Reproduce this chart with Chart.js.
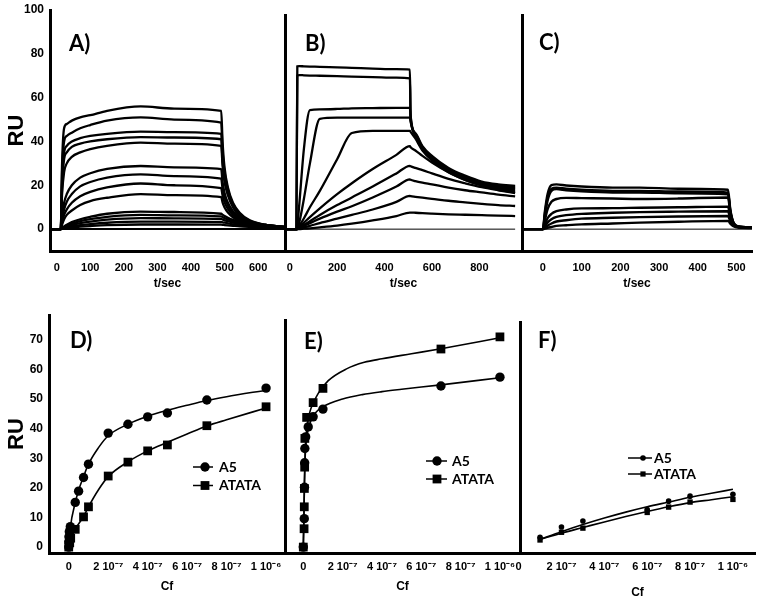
<!DOCTYPE html>
<html>
<head>
<meta charset="utf-8">
<script src="https://cdn.jsdelivr.net/npm/chart.js@4.4.1/dist/chart.umd.min.js"></script>
<style>
  html, body { margin: 0; padding: 0; background: #fff; overflow: hidden; }
  #fig { position: relative; width: 762px; height: 603px; }
  #fig canvas { position: absolute; }
</style>
</head>
<body>
<div id="fig">
  <canvas id="cA" width="297" height="300" style="left:0;top:0"></canvas>
  <canvas id="cB" width="263" height="300" style="left:271px;top:0"></canvas>
  <canvas id="cC" width="254" height="300" style="left:508px;top:0"></canvas>
  <canvas id="cD" width="297" height="303" style="left:0;top:300px"></canvas>
  <canvas id="cE" width="261" height="303" style="left:271px;top:300px"></canvas>
  <canvas id="cF" width="256" height="303" style="left:506px;top:300px"></canvas>
</div>
<script>
// ---- sensorgrams (t in s, response in RU) ----
const timeA = [-20, 12, 16, 22, 30, 45, 70, 100, 150, 250, 350, 490, 494, 500, 510, 525, 545, 575, 620, 680];
const tracesA = [
  [0, 0, 30, 46, 48, 49.5, 51, 52, 54, 56, 55, 54, 40, 28, 19, 12, 7.5, 4, 2, 1],
  [0, 0, 26, 40, 42.5, 44, 46, 47.5, 49.5, 51, 50, 48.6, 36, 26, 18, 11.5, 7, 3.8, 2, 1],
  [0, 0, 22, 35, 38, 40, 41.5, 42.5, 43.5, 44.5, 44.3, 43.5, 33, 24, 17, 11, 6.6, 3.6, 1.9, 1],
  [0, 0, 20, 32, 35, 37.5, 39, 40, 41, 42, 41.8, 41, 31, 23, 16, 10.5, 6.3, 3.5, 1.9, 1],
  [0, 0, 16, 26, 30, 33, 35, 36.5, 38, 39.5, 39, 38, 29, 21.5, 15.5, 10, 6, 3.4, 1.8, 0.9],
  [0, 0, 6, 12, 16, 20, 23.5, 25.5, 27.5, 28.8, 28.2, 27.4, 21.5, 16.5, 12, 8.2, 5.2, 3, 1.6, 0.8],
  [0, 0, 4, 9, 12.5, 16, 19.5, 21.5, 23.5, 25, 24.2, 23, 18.5, 14.5, 10.8, 7.4, 4.8, 2.8, 1.5, 0.8],
  [0, 0, 3, 6.5, 9, 12, 15, 17, 19, 20.8, 20, 18.7, 15.3, 12.2, 9.2, 6.4, 4.2, 2.5, 1.4, 0.7],
  [0, 0, 2, 4.5, 6.5, 8.5, 11, 12.8, 14.3, 16, 15.5, 14.6, 12.2, 9.9, 7.6, 5.4, 3.7, 2.2, 1.2, 0.6],
  [0, 0, 0.5, 1.2, 2, 3.2, 4.5, 5.6, 7, 8, 7.8, 7, 6.6, 6, 5.2, 4.2, 3.2, 2.1, 1.2, 0.6],
  [0, 0, 0.4, 1, 1.6, 2.5, 3.6, 4.5, 5.6, 6.5, 6.3, 5.8, 5.5, 5, 4.4, 3.6, 2.8, 1.9, 1.1, 0.6],
  [0, 0, 0.3, 0.7, 1.2, 1.9, 2.7, 3.4, 4.3, 5, 4.9, 4.6, 4.4, 4, 3.6, 3, 2.4, 1.7, 1, 0.5],
  [0, 0, 0.2, 0.5, 0.8, 1.3, 1.8, 2.3, 2.9, 3.4, 3.4, 3.2, 3.1, 2.9, 2.6, 2.2, 1.8, 1.3, 0.9, 0.5],
  [0, 0, 0.1, 0.3, 0.5, 0.8, 1.1, 1.4, 1.8, 2.1, 2.1, 2, 1.95, 1.85, 1.7, 1.5, 1.25, 1, 0.7, 0.4]
];

const timeB = [-20, 28, 32, 40, 60, 85, 127, 200, 262, 350, 450, 507, 510, 530, 560, 600, 670, 740, 810, 880, 951];
const tracesB = [
  [0, 0, 74.5, 74.6, 74.5, 74.4, 74.3, 74, 73.8, 73.5, 73.2, 73, 52, 44, 38, 33.5, 28, 24.5, 21.8, 20.5, 19.8],
  [0, 0, 70.3, 70.5, 70.4, 70.3, 70.2, 70, 69.8, 69.6, 69.3, 69, 51.5, 43.5, 37.5, 33, 27.5, 24, 21.3, 20, 19.3],
  [0, 0, 1.5, 11, 37, 54.5, 54.8, 55, 55.3, 55.4, 55.5, 55.5, 50.5, 43, 37, 32.5, 27, 23.5, 21, 19.5, 18.8],
  [0, 0, 0.5, 3, 14, 30, 50.5, 51, 51, 51, 51, 51, 49, 42.5, 36.5, 32, 26.5, 23, 20.5, 19, 18.2],
  [0, 0, 0.3, 1.5, 5, 10, 17.5, 32, 44, 45, 45, 45, 44.5, 41.5, 36, 31.5, 26, 22.5, 20, 18.5, 17.5],
  [0, 0, 0.2, 1, 3, 5.5, 9.5, 16, 21, 27.5, 34, 38, 37.5, 36, 33.5, 30.5, 26, 22.5, 20, 18, 16.8],
  [0, 0, 0.1, 0.7, 2, 3.6, 6.5, 11, 14.5, 19.5, 25.5, 29, 28.8, 28, 27, 25.5, 23, 21, 19.2, 17.8, 16.5],
  [0, 0, 0.1, 0.5, 1.5, 2.7, 4.8, 8, 10.5, 14.5, 19.5, 22.8, 22.6, 22, 21.3, 20.5, 19, 17.8, 16.8, 15.8, 15],
  [0, 0, 0, 0.3, 0.8, 1.5, 2.8, 4.8, 6.5, 9, 12.5, 15.2, 15.1, 14.8, 14.4, 13.9, 13, 12.3, 11.6, 11, 10.6],
  [0, 0, 0, 0, 0.2, 0.4, 0.8, 1.6, 2.5, 4, 6, 7.6, 7.6, 7.5, 7.3, 7.1, 6.8, 6.6, 6.4, 6.2, 6]
];

const timeC = [-54, 0, 5, 12, 22, 35, 60, 100, 180, 250, 350, 478, 484, 492, 505, 540];
const tracesC = [
  [0, 0, 8, 16, 20.2, 20.5, 20, 19.5, 19, 19, 18.5, 18, 9, 3, 1.2, 0.8],
  [0, 0, 7, 14.5, 18.5, 19, 18.5, 18, 17.5, 17.5, 17.2, 16.7, 8.5, 3, 1.2, 0.8],
  [0, 0, 6, 13, 17.5, 18.3, 17.8, 17.3, 16.8, 16.8, 16.4, 16, 8, 2.8, 1.1, 0.8],
  [0, 0, 4, 9, 12.5, 13.8, 14.3, 14.2, 14, 13.8, 14, 14.5, 7.5, 2.6, 1, 0.7],
  [0, 0, 2, 5, 7, 8.2, 9, 9.5, 9.6, 9.8, 10, 10.3, 5.5, 2.2, 1, 0.7],
  [0, 0, 1.2, 3, 4.5, 5.6, 6.4, 7, 7.5, 7.8, 8, 8.2, 4.5, 2, 0.9, 0.6],
  [0, 0, 0.6, 1.6, 2.6, 3.5, 4.1, 4.8, 5.2, 5.5, 5.8, 6, 3.5, 1.7, 0.8, 0.6],
  [0, 0, 0.2, 0.6, 1, 1.5, 1.8, 2.2, 2.6, 3, 3.4, 3.8, 2.5, 1.3, 0.7, 0.5]
];

const ticksA = [0, 100, 200, 300, 400, 500, 600];
const ticksB = [0, 200, 400, 600, 800];
const ticksC = [0, 100, 200, 300, 400, 500];
const ticksRUtop = [0, 20, 40, 60, 80, 100];

// ---- binding isotherms (Cf in M, RU) ----
const seriesNames = ['A5', 'ATATA'];

const cfD_A5 = [0, 0, 1e-9, 3e-9, 8e-9, 3.3e-8, 5e-8, 7.5e-8, 1e-7, 2e-7, 3e-7, 4e-7, 5e-7, 7e-7, 1e-6];
const ruD_A5 = [0, 1.8, 3.5, 5.2, 6.9, 15.1, 18.9, 23.5, 28, 38.5, 41.5, 44, 45.3, 49.7, 53.7];
const cfD_AT = [0, 5e-9, 1e-8, 3.3e-8, 7.5e-8, 1e-7, 2e-7, 3e-7, 4e-7, 5e-7, 7e-7, 1e-6];
const ruD_AT = [0, 1.5, 3, 6, 10.2, 13.6, 24, 28.7, 32.5, 34.5, 41, 47.4];
const fitCfD_A5 = [0, 8e-9, 3.3e-8, 5e-8, 7.5e-8, 1e-7, 1.5e-7, 2e-7, 3e-7, 4e-7, 5e-7, 6e-7, 7e-7, 8e-7, 1e-6];
const fitRuD_A5 = [0, 6.5, 15, 19.2, 23.8, 28, 33.5, 37.6, 41.5, 44.2, 46.2, 47.9, 49.5, 50.8, 53];
const fitCfD_AT = [0, 1e-8, 3.3e-8, 7.5e-8, 1e-7, 1.5e-7, 2e-7, 3e-7, 4e-7, 5e-7, 6e-7, 7e-7, 8e-7, 1e-6];
const fitRuD_AT = [0, 2.5, 6, 10.3, 13.6, 19.3, 23.8, 28.8, 32.5, 35.4, 38.2, 40.9, 43, 47];

const cfE_A5 = [0, 5e-9, 6e-9, 7e-9, 8e-9, 1.2e-8, 2.5e-8, 5e-8, 1e-7, 7e-7, 1e-6];
const ruE_A5 = [0, 9.6, 20.2, 28.5, 33.3, 37.2, 40.6, 44, 46.6, 54.4, 57.4];
const cfE_AT = [0, 4e-9, 5e-9, 5.5e-9, 7e-9, 8e-9, 1.7e-8, 5e-8, 1e-7, 7e-7, 1e-6];
const ruE_AT = [0, 6.2, 13.6, 19.8, 27, 36.7, 43.8, 48.8, 53.6, 66.9, 71];
const fitCfE_A5 = [0, 3e-9, 6e-9, 1e-8, 2e-8, 3.5e-8, 6e-8, 1e-7, 2e-7, 3e-7, 4e-7, 5e-7, 7e-7, 1e-6];
const fitRuE_A5 = [0, 10, 22, 31, 38, 42, 45.2, 47.4, 50, 51.5, 52.5, 53.3, 54.8, 57.2];
const fitCfE_AT = [0, 3e-9, 6e-9, 1e-8, 2e-8, 3.5e-8, 5e-8, 7.6e-8, 1.27e-7, 2.2e-7, 3.1e-7, 4e-7, 5.5e-7, 7e-7, 1e-6];
const fitRuE_AT = [0, 9, 22, 33, 41, 46, 48.5, 51.9, 56.2, 60.2, 62.4, 63.6, 65.3, 67, 70.7];

const cfF = [1e-7, 2e-7, 3e-7, 6e-7, 7e-7, 8e-7, 1e-6];
const ruF_A5 = [3.3, 6.8, 8.8, 12.7, 15.5, 17.2, 17.8];
const ruF_AT = [2.4, 5, 6.4, 11.7, 13.5, 15.2, 16.1];
const fitCfF = [1e-7, 2e-7, 3e-7, 4e-7, 5e-7, 6e-7, 7e-7, 8e-7, 9e-7, 1e-6];
const fitRuF_A5 = [2.6, 5.2, 7.6, 9.8, 11.8, 13.6, 15.2, 16.8, 18.2, 19.5];
const fitRuF_AT = [2.6, 4.7, 6.6, 8.5, 10.3, 12, 13.6, 15, 16, 17];

const ticksCf = [0, 2e-7, 4e-7, 6e-7, 8e-7, 1e-6];
const labelsCf = ['0', '2 10\u207B\u2077', '4 10\u207B\u2077', '6 10\u207B\u2077', '8 10\u207B\u2077', '1 10\u207B\u2076'];
const ticksRUbottom = [0, 10, 20, 30, 40, 50, 60, 70];

Chart.defaults.font.family = "'Liberation Sans', Arial, sans-serif";
Chart.defaults.color = '#000';

// panel letter and in-plot legend
const decor = {
    id: 'decor',
    afterDatasetsDraw(chart, args, o) {
        const ctx = chart.ctx;
        ctx.save();
        ctx.fillStyle = '#000';
        ctx.strokeStyle = '#000';
        ctx.font = 'bold 22px Lato';
        ctx.textAlign = 'left';
        ctx.textBaseline = 'alphabetic';
        ctx.fillText(o.letter, o.lx, o.ly);
        if (o.legend) {
            const L = o.legend;
            ctx.font = 'bold ' + L.size + 'px Lato';
            ctx.textBaseline = 'middle';
            seriesNames.forEach((name, i) => {
                const y = L.y[i];
                ctx.lineWidth = 1.5;
                ctx.beginPath();
                ctx.moveTo(L.x1, y);
                ctx.lineTo(L.x2, y);
                ctx.stroke();
                if (i === 0) {
                    ctx.beginPath();
                    ctx.arc(L.mx, y, L.r, 0, Math.PI * 2);
                    ctx.fill();
                } else {
                    ctx.fillRect(L.mx - L.s / 2, y - L.s / 2, L.s, L.s);
                }
                ctx.fillText(name, L.tx, y);
            });
        }
        ctx.restore();
    }
};

function zeroPad(s) {
    s.paddingTop = 0; s.paddingBottom = 0; s.paddingLeft = 0; s.paddingRight = 0;
}

function pairs(xs, ys) {
    return xs.map((x, i) => ({ x: x, y: ys[i] }));
}

function traceSets(times, traces, width) {
    return traces.map(v => ({
        data: pairs(times, v),
        borderColor: '#000',
        borderWidth: width,
        pointRadius: 0,
        cubicInterpolationMode: 'monotone',
        fill: false
    }));
}

function baseline(x0, x1, width) {
    return { data: [{ x: x0, y: 0 }, { x: x1, y: 0 }], borderColor: '#000', borderWidth: width, pointRadius: 0 };
}

function markers(xs, ys, style, r) {
    return {
        data: pairs(xs, ys), showLine: false, pointStyle: style, pointRadius: r,
        pointBackgroundColor: '#000', pointBorderColor: '#000', pointBorderWidth: 0
    };
}

function fitLine(xs, ys) {
    return {
        data: pairs(xs, ys), borderColor: '#000', borderWidth: 1.6, pointRadius: 0,
        cubicInterpolationMode: 'monotone', fill: false
    };
}

function makeChart(id, p) {
    return new Chart(document.getElementById(id), {
        type: 'line',
        data: { datasets: p.datasets },
        plugins: [decor],
        options: {
            responsive: false,
            animation: false,
            events: [],
            layout: { padding: { left: 0, top: p.padTop, right: p.padRight, bottom: 0 } },
            plugins: { legend: { display: false }, tooltip: { enabled: false }, decor: p.decor },
            scales: {
                x: {
                    type: 'linear', min: p.xMin, max: p.xMax,
                    grid: { display: false, drawTicks: false },
                    border: { display: true, width: 3, color: '#000' },
                    ticks: {
                        autoSkip: false, maxRotation: 0, padding: p.xPad,
                        font: { size: p.xFont, weight: 'bold' },
                        callback: (v, i) => p.xLabels[i]
                    },
                    afterBuildTicks: s => { s.ticks = p.xTicks.map(v => ({ value: v })); },
                    afterFit: s => { s.height = p.xH; zeroPad(s); },
                    title: {
                        display: true, text: p.xTitle, font: { size: 12, weight: 'bold' },
                        padding: { top: 0, bottom: p.xTitlePad }
                    }
                },
                y: {
                    type: 'linear', min: p.yMin, max: p.yMax,
                    grid: { display: false, drawTicks: false },
                    border: { display: true, width: 3, color: '#000' },
                    ticks: {
                        display: !!p.yTicks, padding: 6,
                        font: { size: 12, weight: 'bold' }
                    },
                    afterBuildTicks: s => { if (p.yTicks) s.ticks = p.yTicks.map(v => ({ value: v })); },
                    afterFit: s => { s.width = p.yW; zeroPad(s); },
                    title: {
                        display: !!p.yTicks, text: 'RU', font: { size: 22, weight: 'bold' },
                        padding: { top: 4, bottom: 0 }
                    }
                }
            }
        }
    });
}

// ---- top row ----
makeChart('cA', {
    datasets: [baseline(-20, 680, 2)].concat(traceSets(timeA, tracesA, 2.3)),
    padTop: 10, padRight: 12, yW: 50, xH: 49,
    xMin: -20, xMax: 680, yMin: -10, yMax: 100,
    xTicks: ticksA, xLabels: ticksA.map(String), xFont: 11, xPad: 10,
    xTitle: 't/sec', xTitlePad: 9, yTicks: ticksRUtop,
    decor: { letter: 'A)', lx: 69, ly: 51 }
});
makeChart('cB', {
    datasets: [baseline(-20, 951, 1)].concat(traceSets(timeB, tracesB, 2.3)),
    padTop: 15, padRight: 12, yW: 14, xH: 49,
    xMin: -20, xMax: 980, yMin: -10, yMax: 98,
    xTicks: ticksB, xLabels: ticksB.map(String), xFont: 11, xPad: 10,
    xTitle: 't/sec', xTitlePad: 9,
    decor: { letter: 'B)', lx: 34, ly: 51 }
});
makeChart('cC', {
    datasets: [baseline(-54, 540, 1)].concat(traceSets(timeC, tracesC, 2.4)),
    padTop: 15, padRight: 10, yW: 14, xH: 49,
    xMin: -54, xMax: 540, yMin: -10, yMax: 98,
    xTicks: ticksC, xLabels: ticksC.map(String), xFont: 11, xPad: 10,
    xTitle: 't/sec', xTitlePad: 9,
    decor: { letter: 'C)', lx: 31, ly: 50 }
});

// ---- bottom row ----
makeChart('cD', {
    datasets: [
        fitLine(fitCfD_A5, fitRuD_A5), fitLine(fitCfD_AT, fitRuD_AT),
        markers(cfD_A5, ruD_A5, 'circle', 4.7), markers(cfD_AT, ruD_AT, 'rect', 6.2)
    ],
    padTop: 15, padRight: 12, yW: 49, xH: 50,
    xMin: -1e-7, xMax: 1.096e-6, yMin: -2, yMax: 78.4,
    xTicks: ticksCf, xLabels: labelsCf, xFont: 11, xPad: 7,
    xTitle: 'Cf', xTitlePad: 9, yTicks: ticksRUbottom,
    decor: {
        letter: 'D)', lx: 70, ly: 48,
        legend: { size: 14, x1: 193, x2: 213, mx: 205, tx: 219, y: [167, 185.5], r: 4.7, s: 8.8 }
    }
});
makeChart('cE', {
    datasets: [
        fitLine(fitCfE_A5, fitRuE_A5), fitLine(fitCfE_AT, fitRuE_AT),
        markers(cfE_A5, ruE_A5, 'circle', 4.7), markers(cfE_AT, ruE_AT, 'rect', 6.2)
    ],
    padTop: 20, padRight: 12, yW: 14, xH: 50,
    xMin: -0.93e-7, xMax: 1.102e-6, yMin: -2, yMax: 76.7,
    xTicks: ticksCf, xLabels: labelsCf, xFont: 11, xPad: 7,
    xTitle: 'Cf', xTitlePad: 9,
    decor: {
        letter: 'E)', lx: 33, ly: 49,
        legend: { size: 14, x1: 155, x2: 176, mx: 166, tx: 181, y: [161, 179], r: 4.7, s: 8.8 }
    }
});
makeChart('cF', {
    datasets: [
        fitLine(fitCfF, fitRuF_A5), fitLine(fitCfF, fitRuF_AT),
        markers(cfF, ruF_A5, 'circle', 2.8), markers(cfF, ruF_AT, 'rect', 3.8)
    ],
    padTop: 22, padRight: 7, yW: 14, xH: 50,
    xMin: 6.5e-9, xMax: 1.103e-6, yMin: -2, yMax: 76,
    xTicks: ticksCf, xLabels: labelsCf, xFont: 11, xPad: 7,
    xTitle: 'Cf', xTitlePad: 3,
    decor: {
        letter: 'F)', lx: 32, ly: 48,
        legend: { size: 14, x1: 122, x2: 146, mx: 137, tx: 148, y: [158, 174], r: 2.8, s: 5.2 }
    }
});
</script>
</body>
</html>
